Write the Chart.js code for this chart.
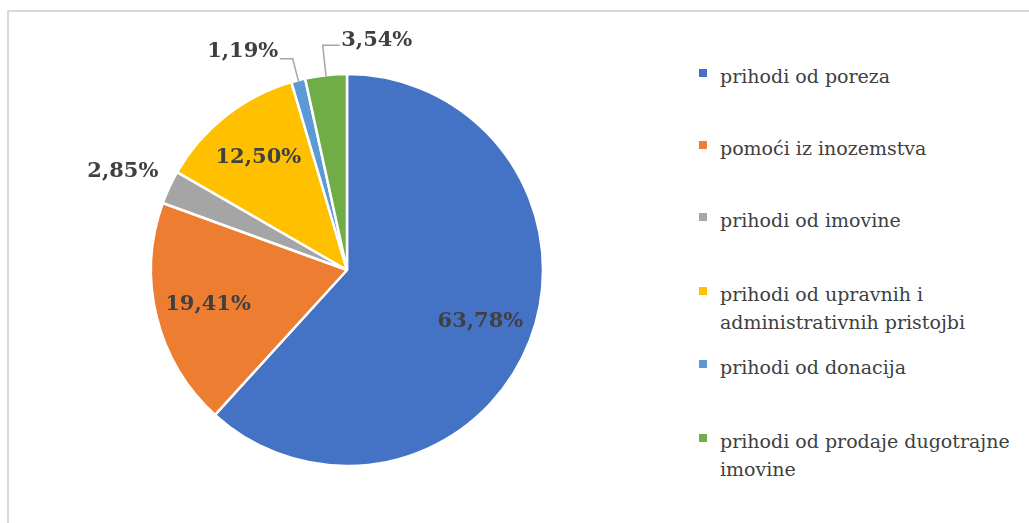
<!DOCTYPE html>
<html>
<head>
<meta charset="utf-8">
<script src="https://cdn.jsdelivr.net/npm/chart.js@4"></script>
<style>
  html, body { margin: 0; padding: 0; background: #fff; }
  #wrap { position: relative; width: 1029px; height: 523px; overflow: hidden; }
  #frame { position: absolute; left: 7px; top: 10px; width: 1030px; height: 520px;
           border-top: 2px solid #d9d9d9; border-left: 2px solid #d9d9d9; }
  #chartBox { position: absolute; left: 0; top: 0; width: 694px; height: 523px; }
  #legend { position: absolute; left: 720px; top: 0; width: 305px; height: 523px;
            font-family: "DejaVu Serif", serif; font-size: 19px; line-height: 28px; color: #404040; }
  .item { position: absolute; left: 0; width: 305px; }
  .mk { position: absolute; left: -21px; top: 7px; width: 8px; height: 8px; }
</style>
</head>
<body>
<div id="wrap">
  <div id="frame"></div>
  <div id="chartBox"><canvas id="c"></canvas></div>
  <div id="legend"></div>
</div>
<script>
const categories = [
  'prihodi od poreza',
  'pomoći iz inozemstva',
  'prihodi od imovine',
  'prihodi od upravnih i administrativnih pristojbi',
  'prihodi od donacija',
  'prihodi od prodaje dugotrajne imovine'
];
const shares = [63.78, 19.41, 2.85, 12.50, 1.19, 3.54];
const valueLabels = ['63,78%', '19,41%', '2,85%', '12,50%', '1,19%', '3,54%'];
const colors = ['#4472C4', '#ED7D31', '#A5A5A5', '#FFC000', '#5B9BD5', '#70AD47'];

// label placement style per slice
const placement = [
  { mode: 'inside' },
  { mode: 'inside' },
  { mode: 'outside' },
  { mode: 'inside' },
  { mode: 'callout', side: -1, elbow: 22, len: 13, lift: 7 },
  { mode: 'callout', side: 1, elbow: 30, len: 17, lift: 5 }
];
const legendTops = [62, 134, 206, 280, 353, 427];

const labelPlugin = {
  id: 'pieLabels',
  afterDatasetsDraw(chart) {
    const ctx = chart.ctx;
    const meta = chart.getDatasetMeta(0);
    ctx.save();
    ctx.font = 'bold 21px "DejaVu Serif", serif';
    ctx.fillStyle = '#404040';
    meta.data.forEach((arc, i) => {
      const p = arc.getProps(['x', 'y', 'startAngle', 'endAngle', 'outerRadius'], true);
      const mid = (p.startAngle + p.endAngle) / 2;
      const dx = Math.cos(mid), dy = Math.sin(mid);
      const r = p.outerRadius;
      const txt = valueLabels[i];
      const pl = placement[i];
      if (pl.mode === 'inside') {
        ctx.textAlign = 'center';
        ctx.textBaseline = 'middle';
        ctx.fillText(txt, p.x + dx * r * 0.73, p.y + dy * r * 0.73);
      } else if (pl.mode === 'outside') {
        const ax = p.x + dx * (r + 12), ay = p.y + dy * (r + 12);
        const h = 22;
        ctx.textAlign = dx < 0 ? 'right' : 'left';
        ctx.textBaseline = 'middle';
        const cy = dy < 0 ? ay - h / 2 : ay + h / 2;
        ctx.fillText(txt, ax, cy);
      } else {
        const sx = p.x + dx * (r - 1), sy = p.y + dy * (r - 1);
        const ex = p.x + dx * (r + pl.elbow), ey = p.y + dy * (r + pl.elbow);
        const hx = ex + pl.side * pl.len;
        ctx.strokeStyle = '#a6a6a6';
        ctx.lineWidth = 1.5;
        ctx.beginPath();
        ctx.moveTo(sx, sy);
        ctx.lineTo(ex, ey);
        ctx.lineTo(hx, ey);
        ctx.stroke();
        ctx.textAlign = pl.side < 0 ? 'right' : 'left';
        ctx.textBaseline = 'middle';
        ctx.fillText(txt, hx + pl.side * 1.5, ey - pl.lift);
      }
    });
    ctx.restore();
  }
};

new Chart(document.getElementById('c'), {
  type: 'pie',
  data: {
    labels: categories,
    datasets: [{
      data: shares,
      backgroundColor: colors,
      borderColor: '#ffffff',
      borderWidth: 2.5,
      radius: 196
    }]
  },
  options: {
    responsive: true,
    maintainAspectRatio: false,
    animation: false,
    layout: { padding: { top: 74, bottom: 57, left: 151, right: 151 } },
    plugins: { legend: { display: false }, tooltip: { enabled: false } }
  },
  plugins: [labelPlugin]
});

const lg = document.getElementById('legend');
categories.forEach((name, i) => {
  const it = document.createElement('div');
  it.className = 'item';
  it.style.top = legendTops[i] + 'px';
  const mk = document.createElement('span');
  mk.className = 'mk';
  mk.style.background = colors[i];
  it.appendChild(mk);
  it.appendChild(document.createTextNode(name));
  lg.appendChild(it);
});
</script>
</body>
</html>
